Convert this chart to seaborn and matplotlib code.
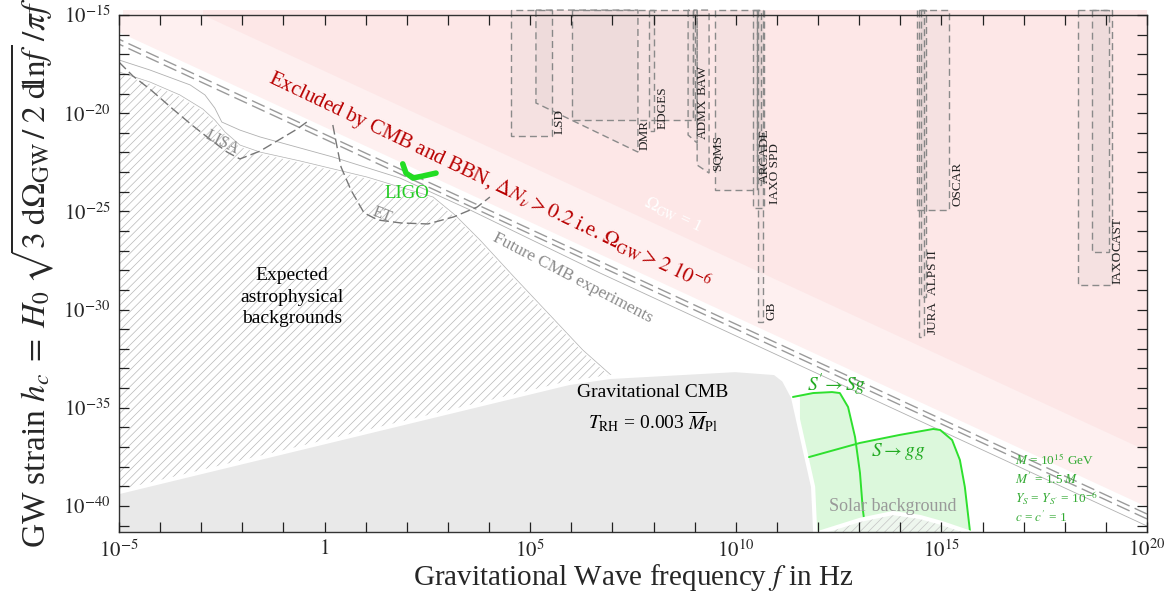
import numpy as np
import matplotlib
matplotlib.use("Agg")
import matplotlib.pyplot as plt
from matplotlib.ticker import FixedLocator, FixedFormatter, NullFormatter
import seaborn as sns

# ---------------- data (log10 values) ----------------
xtick_exp = [-5, 0, 5, 10, 15, 20]
xtick_labels = [r"$10^{-5}$", r"$1$", r"$10^{5}$", r"$10^{10}$", r"$10^{15}$", r"$10^{20}$"]
ytick_exp = [-40, -35, -30, -25, -20, -15]
ytick_labels = [r"$10^{-40}$", r"$10^{-35}$", r"$10^{-30}$", r"$10^{-25}$", r"$10^{-20}$", r"$10^{-15}$"]
xlim_exp = [-5, 20]
ylim_exp = [-41.3, -15]

# CMB/BBN bound (Omega_GW = 2e-6), Omega_GW = 1 line, future CMB lines
bound_logf = [-5.2, 20]
bbn_logh = [-15.68, -40.05]
omega1_logh = [-12.83, -37.20]
cmbfut1_logh = [-16.04, -40.41]
cmbfut2_logh = [-16.29, -40.66]
strip_logf = [-4.9, -2.96, 20.0]
strip_logh = [-15.0, -14.75]

# thin upper edge of the white band
band_logf = [-5.3, -5.0, -4.25, -3.27, -2.91, -2.67, -2.50, -2.06, -1.57, 0.20, 1.83, 3.54, 6.70, 20.0]
band_logh = [-17.1, -17.29, -17.80, -18.56, -19.07, -19.74, -20.45, -20.86, -21.21, -22.23, -23.30, -24.93, -28.14, -41.02]

# expected astrophysical backgrounds (upper boundary)
astro_logf = [-5.5, -5.0, -4.25, -3.52, -2.96, -2.67, -2.42, -2.06, -1.57, -0.60, 1.03, 2.64, 3.17, 3.78, 4.63, 6.28, 6.99]
astro_logh = [-17.6, -17.90, -18.41, -19.07, -19.79, -20.35, -20.96, -21.62, -21.98, -22.43, -23.25, -24.27, -25.18, -26.46, -28.39, -32.06, -33.38]

# gravitational CMB (T_RH = 0.003 M_Pl)
gcmb_logf = [-5.5, -5.0, 5.94, 6.94, 9.98, 10.95, 11.17, 11.39, 11.88, 11.93, 11.95]
gcmb_logh = [-39.54, -39.29, -33.74, -33.43, -33.08, -33.23, -33.59, -34.45, -39.03, -41.32, -42.5]

# LISA, ET, LIGO sensitivity curves
lisa_logf = [-5.0, -4.66, -4.25, -3.69, -3.20, -2.79, -2.37, -2.06, -1.57, -1.08, -0.67, -0.40]
lisa_logh = [-17.40, -18.11, -18.77, -19.79, -20.65, -21.32, -21.98, -22.33, -21.93, -21.32, -20.81, -20.40]
et_logf = [0.20, 0.27, 0.40, 0.64, 0.96, 1.30, 1.86, 2.51, 3.14, 3.71, 4.02]
et_logh = [-20.60, -21.37, -22.74, -23.91, -25.08, -25.44, -25.59, -25.64, -25.28, -24.78, -24.27]
ligo_logf = [1.90, 1.98, 2.15, 2.39, 2.71]
ligo_logh = [-22.58, -23.05, -23.30, -23.20, -23.05]

# scalar decay spectra (M = 1e15 GeV)
spsg_logf = [11.39, 11.88, 12.34, 12.53, 12.73, 12.90, 13.02, 13.09, 13.17]
spsg_logh = [-34.45, -34.25, -34.20, -34.25, -34.96, -36.49, -38.32, -40.20, -41.48]
sgg_logf = [11.78, 13.02, 13.99, 14.80, 14.97, 15.26, 15.45, 15.57, 15.70]
sgg_logh = [-37.51, -36.79, -36.38, -36.08, -36.13, -36.64, -37.66, -39.03, -41.38]

# solar background
solar_logf = [11.85, 13.02, 13.82, 14.48, 15.01, 15.87]
solar_logh = [-41.48, -40.71, -40.36, -40.56, -40.87, -41.48]

# high-frequency detector regions: f range, lower edge (left, right), label position
det_names = ["LSD", "DMR", "", "EDGES", "ADMX", "BAW", "SQMS", "", "ARCADE", "IAXO SPD", "GB",
             "JURA", "ALPS II", "OSCAR", "IAXO", "CAST"]
det_flo = [4.53, 5.14, 6.02, 7.89, 8.84, 8.96, 9.06, 9.49, 10.52, 10.42, 10.54, 14.45, 14.50, 14.41, 18.32, 18.66]
det_fhi = [5.53, 7.62, 8.96, 8.01, 9.06, 9.01, 9.35, 10.52, 10.61, 10.69, 10.66, 14.58, 14.62, 15.18, 19.15, 19.08]
det_hbl = [-21.16, -19.48, -20.35, -20.91, -21.11, -20.35, -22.64, -23.91, -23.66, -24.83, -30.63, -31.40, -29.36, -24.93, -28.75, -27.07]
det_hbr = [-21.16, -21.98, -20.35, -20.91, -21.52, -20.35, -23.05, -23.91, -23.66, -24.83, -30.63, -31.40, -29.36, -24.93, -28.75, -27.07]
det_lab_f = [5.72, 7.79, 0, 8.23, 9.20, 9.20, 9.57, 0, 10.71, 10.95, 10.88, 14.80, 14.80, 15.38, 19.29, 19.29]
det_lab_h = [-21.06, -21.87, 0, -20.80, -21.32, -19.05, -22.94, 0, -23.55, -24.62, -30.53, -31.25, -29.26, -24.73, -28.70, -27.02]
det_top = -14.75

params_text = [r"$M$ = 10$^{15}$ GeV", r"$M^{\prime}$ = 1.5 $M$", r"$Y_S$ = $Y_{S^{\prime}}$ = 10$^{-6}$", r"$c$ = $c^{\prime}$ = 1"]
params_logh = [-37.66, -38.63, -39.60, -40.56]

# ---------------- style ----------------
sns.set_style("ticks")
plt.rcParams["font.family"] = ["Liberation Serif", "DejaVu Serif"]
plt.rcParams["mathtext.fontset"] = "stix"
plt.rcParams["hatch.linewidth"] = 0.5
plt.rcParams["hatch.color"] = "#b8b8b8"

PINK_BAND = "#fef0f0"
PINK_DARK = "#fde7e7"

P = lambda a: 10.0 ** np.asarray(a, dtype=float)

fig = plt.figure(figsize=(11.73, 6.10), dpi=100)
ax = fig.add_axes([119 / 1173, 1 - 531.5 / 610, (1147 - 119) / 1173, (531.5 - 15) / 610])
ax.set_xscale("log")
ax.set_yscale("log")
ax.set_xlim(P(xlim_exp))
ax.set_ylim(P(ylim_exp))


def line(lf, lh, **kw):
    sns.lineplot(x=P(lf), y=P(lh), ax=ax, sort=False, estimator=None, **kw)


# excluded (pink) regions
ax.fill(P([bound_logf[0], bound_logf[1], bound_logf[1], bound_logf[0]]),
        P([bbn_logh[0], bbn_logh[1], -10, -10]),
        facecolor=PINK_BAND, edgecolor="none", zorder=1)
ax.fill(P([bound_logf[0], bound_logf[1], bound_logf[1], bound_logf[0]]),
        P([omega1_logh[0], omega1_logh[1], -10, -10]),
        facecolor=PINK_DARK, edgecolor="none", zorder=1.1)
# thin strip above the frame
ax.fill(P([strip_logf[0], strip_logf[1], strip_logf[1], strip_logf[0]]),
        P([strip_logh[0], strip_logh[0], strip_logh[1], strip_logh[1]]),
        facecolor=PINK_BAND, edgecolor="none", zorder=1, clip_on=False)
ax.fill(P([strip_logf[1], strip_logf[2], strip_logf[2], strip_logf[1]]),
        P([strip_logh[0], strip_logh[0], strip_logh[1], strip_logh[1]]),
        facecolor=PINK_DARK, edgecolor="none", zorder=1, clip_on=False)

# detectors
for n, flo, fhi, hl, hr, lf, lh in zip(det_names, det_flo, det_fhi, det_hbl, det_hbr, det_lab_f, det_lab_h):
    ax.fill(P([flo, flo, fhi, fhi]), P([det_top, hl, hr, det_top]), facecolor=(0.45, 0.45, 0.45, 0.05),
            edgecolor="#8a8a8a", linewidth=1.0, linestyle=(0, (5, 3)), zorder=2, clip_on=False)
    if n:
        ax.text(P(lf), P(lh), n, rotation=90, ha="center", va="bottom", fontsize=9.5,
                color="#222222", zorder=6)

# astrophysical backgrounds (hatched)
ax.fill(P(astro_logf + [6.99, -5.5]), P(astro_logh + [-42.5, -42.5]), facecolor="white",
        edgecolor="#b8b8b8", hatch="////", linewidth=0, zorder=1.5)
line(astro_logf, astro_logh, color="white", linewidth=2.5, zorder=1.6)
line(astro_logf, astro_logh, color="#b0b0b0", linewidth=0.5, zorder=1.7)
line(band_logf, band_logh, color="#b0b0b0", linewidth=0.6, zorder=1.7)

# future CMB lines
line(bound_logf, cmbfut1_logh, color="#9a9a9a", linewidth=1.0, linestyle=(0, (10, 4)), zorder=3)
line(bound_logf, cmbfut2_logh, color="#9a9a9a", linewidth=1.0, linestyle=(0, (10, 4)), zorder=3)

# LISA / ET / LIGO
line(lisa_logf, lisa_logh, color="#777777", linewidth=1.0, linestyle=(0, (7, 3)), zorder=3)
line(et_logf, et_logh, color="#777777", linewidth=1.0, linestyle=(0, (7, 3)), zorder=3)
line(ligo_logf, ligo_logh, color="#22dd22", linewidth=4, zorder=4)

# scalar decay spectra
ax.fill(P(spsg_logf + [11.56, 11.56]), P(spsg_logh + [-42.5, spsg_logh[0]]), facecolor="#dcf8dc",
        edgecolor="none", zorder=2.5)
ax.fill(P(sgg_logf + [11.78]), P(sgg_logh + [-42.5]), facecolor="#dcf8dc", edgecolor="none", zorder=2.5)
ax.fill(P([sgg_logf[0], sgg_logf[-1], sgg_logf[-1], sgg_logf[0]]), P([-41.38, -41.38, -42.5, -42.5]),
        facecolor="#dcf8dc", edgecolor="none", zorder=2.5)

# gravitational CMB
ax.fill(P(gcmb_logf + [-5.5]), P(gcmb_logh + [-42.5]), facecolor="#e9e9e9", edgecolor="white",
        linewidth=3, zorder=3)

line(spsg_logf, spsg_logh, color="#2ee02e", linewidth=1.4, zorder=4)
line(sgg_logf, sgg_logh, color="#2ee02e", linewidth=1.4, zorder=4)

# solar background
ax.fill(P(solar_logf), P(solar_logh), facecolor="#eef6ee", edgecolor="#c4c4c4", hatch="////",
        linewidth=0, zorder=4.2)
line(solar_logf, solar_logh, color="white", linewidth=3, zorder=4.3)

# ---------------- texts ----------------
ax.text(P(4.02), P(-23.45), r"Excluded by CMB and BBN, $\Delta N_\nu > 0.2$ i.e. $\Omega_{\rm GW} > 2\ 10^{-6}$",
        rotation=-25.5, ha="center", va="center", color="#b80000", fontsize=15, zorder=6,
        rotation_mode="anchor")
ax.text(P(8.47), P(-25.18), r"$\Omega_{\rm GW}$ = 1", rotation=-25, ha="center", va="center",
        color="white", fontsize=12.5, zorder=6, rotation_mode="anchor")
ax.text(P(6.02), P(-28.39), "Future CMB experiments", rotation=-27.5, ha="center", va="center",
        color="#8a8a8a", fontsize=12.5, zorder=6, rotation_mode="anchor")
ax.text(P(-2.50), P(-21.47), "LISA", rotation=-27, ha="center", va="center", color="#888888",
        fontsize=11.5, zorder=6, rotation_mode="anchor")
ax.text(P(1.40), P(-25.18), "ET", rotation=-22, ha="center", va="center", color="#888888",
        fontsize=11.5, zorder=6, rotation_mode="anchor")
ax.text(P(2.00), P(-24.11), "LIGO", ha="center", va="center", color="#22cc22", fontsize=13.5, zorder=6)
ax.text(P(-0.79), P(-29.36), "Expected\nastrophysical\nbackgrounds", ha="center", va="center",
        color="black", fontsize=14, linespacing=1.35, zorder=6)
ax.text(P(7.99), P(-34.20), "Gravitational CMB", ha="center", va="center", color="black", fontsize=14, zorder=6)
ax.text(P(7.99), P(-35.72), r"$T_{\rm RH}$ = 0.003 $\overline{M}_{\rm Pl}$", ha="center", va="center",
        color="black", fontsize=14, zorder=6)
ax.text(P(12.46), P(-33.84), r"$S^{\prime}\!\rightarrow Sg$", ha="center", va="center", color="#22aa22",
        fontsize=14, zorder=6)
ax.text(P(13.94), P(-37.25), r"$S \rightarrow gg$", ha="center", va="center", color="#22aa22",
        fontsize=14, zorder=6)
ax.text(P(13.82), P(-40.05), "Solar background", ha="center", va="center", color="#999999",
        fontsize=13, zorder=6)
for t, lh in zip(params_text, params_logh):
    ax.text(P(16.79), P(lh), t, ha="left", va="center", color="#33aa33", fontsize=9.5, zorder=6)

# ---------------- axes ----------------
ax.xaxis.set_major_locator(FixedLocator(P(xtick_exp)))
ax.xaxis.set_major_formatter(FixedFormatter(xtick_labels))
ax.xaxis.set_minor_locator(FixedLocator(P(np.arange(xlim_exp[0], xlim_exp[1] + 1))))
ax.xaxis.set_minor_formatter(NullFormatter())
ax.yaxis.set_major_locator(FixedLocator(P(ytick_exp)))
ax.yaxis.set_major_formatter(FixedFormatter(ytick_labels))
ax.yaxis.set_minor_locator(FixedLocator(P(np.arange(-41, -14))))
ax.yaxis.set_minor_formatter(NullFormatter())
ax.tick_params(which="both", direction="in", length=7, width=0.9, top=True, right=True,
               color="#222222", labelsize=15, pad=6)
for s in ax.spines.values():
    s.set_zorder(10)
    s.set_linewidth(1.0)
    s.set_color("#333333")
ax.xaxis.set_zorder(10)
ax.yaxis.set_zorder(10)

ax.set_xlabel(r"Gravitational Wave frequency $f$ in Hz", fontsize=21, labelpad=0)
ax.set_ylabel(r"GW strain $h_c\;=\;H_0\;\sqrt{3\;\mathrm{d}\Omega_{\mathrm{GW}}\,/\;2\;\mathrm{d}\!\ln\! f}\;/\pi f$",
              fontsize=24, labelpad=5)

fig.savefig("out.png", dpi=100)
